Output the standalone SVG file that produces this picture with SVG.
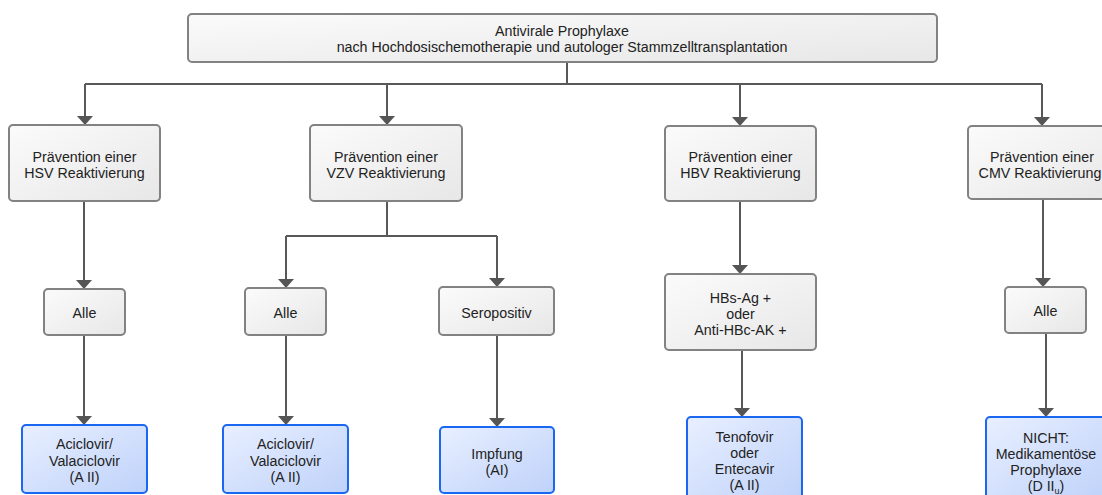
<svg xmlns="http://www.w3.org/2000/svg" width="1102" height="495" viewBox="0 0 1102 495">
<style>
.g{fill:url(#gg);stroke:#828282;stroke-width:2}
.b{fill:url(#bg);stroke:#1a68f2;stroke-width:2}
text{font-family:"Liberation Sans",Arial,sans-serif;font-size:14.25px;fill:#222;text-anchor:middle}
.c{fill:none;stroke:#585858;stroke-width:2}
</style>
<defs>
<linearGradient id="gg" x1="0" y1="0" x2="1" y2="1">
<stop offset="0" stop-color="#fbfbfb"/><stop offset="1" stop-color="#e7e7e7"/>
</linearGradient>
<linearGradient id="bg" x1="0" y1="0" x2="1" y2="1">
<stop offset="0" stop-color="#e8efff"/><stop offset="1" stop-color="#bfd2fa"/>
</linearGradient>
</defs>
<g id="connectors">
<path class="c" d="M567,62 V84 M85,84 H1042"/>
<path d="M85,84 V125" class="c"/>
<polygon points="77,116 93,116 85,125" fill="#555"/>
<path d="M387,84 V125" class="c"/>
<polygon points="379,116 395,116 387,125" fill="#555"/>
<path d="M740,84 V126" class="c"/>
<polygon points="732,117 748,117 740,126" fill="#555"/>
<path d="M1042,84 V126" class="c"/>
<polygon points="1034,117 1050,117 1042,126" fill="#555"/>
<path class="c" d="M84,201 V289"/>
<polygon points="76,280 92,280 84,289" fill="#555"/>
<path class="c" d="M84,335 V425"/>
<polygon points="76,416 92,416 84,425" fill="#555"/>
<path class="c" d="M387,201 V236 M286,236 H497 M286,236 V288 M497,236 V287"/>
<polygon points="278,279 294,279 286,288" fill="#555"/>
<polygon points="489,278 505,278 497,287" fill="#555"/>
<path class="c" d="M286,335 V425"/>
<polygon points="278,416 294,416 286,425" fill="#555"/>
<path class="c" d="M497,335 V427"/>
<polygon points="489,418 505,418 497,427" fill="#555"/>
<path class="c" d="M740,201 V274"/>
<polygon points="732,265 748,265 740,274" fill="#555"/>
<path class="c" d="M742,350 V417"/>
<polygon points="734,408 750,408 742,417" fill="#555"/>
<path class="c" d="M1043,199 V287"/>
<polygon points="1035,278 1051,278 1043,287" fill="#555"/>
<path class="c" d="M1046,333 V417"/>
<polygon points="1038,408 1054,408 1046,417" fill="#555"/>
</g>
<g id="root">
<rect class="g" x="188" y="14" width="749" height="48" rx="4"/>
<text x="562" y="36">Antivirale Prophylaxe</text>
<text x="562" y="52">nach Hochdosischemotherapie und autologer Stammzelltransplantation</text>
</g>
<g id="hsv">
<rect class="g" x="9" y="125" width="151" height="76" rx="4"/>
<text x="84.5" y="162">Prävention einer</text>
<text x="84.5" y="178">HSV Reaktivierung</text>
</g>
<g id="vzv">
<rect class="g" x="310" y="125" width="152" height="76" rx="4"/>
<text x="386" y="162">Prävention einer</text>
<text x="386" y="178">VZV Reaktivierung</text>
</g>
<g id="hbv">
<rect class="g" x="665" y="126" width="151" height="75" rx="4"/>
<text x="740.5" y="162">Prävention einer</text>
<text x="740.5" y="178">HBV Reaktivierung</text>
</g>
<g id="cmv">
<rect class="g" x="968" y="126" width="152" height="73" rx="4"/>
<text x="1042" y="162">Prävention einer</text>
<text x="1040" y="178">CMV Reaktivierung</text>
</g>
<g id="hsv-alle">
<rect class="g" x="44" y="289" width="81" height="46" rx="4"/>
<text x="84.5" y="318">Alle</text>
</g>
<g id="vzv-alle">
<rect class="g" x="245" y="288" width="81" height="47" rx="4"/>
<text x="285.5" y="318">Alle</text>
</g>
<g id="vzv-sero">
<rect class="g" x="439" y="287" width="115" height="48" rx="4"/>
<text x="496.5" y="318">Seropositiv</text>
</g>
<g id="hbv-cond">
<rect class="g" x="665" y="274" width="151" height="76" rx="4"/>
<text x="740.5" y="303">HBs-Ag +</text>
<text x="740.5" y="319">oder</text>
<text x="740.5" y="335">Anti-HBc-AK +</text>
</g>
<g id="cmv-alle">
<rect class="g" x="1005" y="287" width="81" height="46" rx="4"/>
<text x="1045.5" y="316">Alle</text>
</g>
<g id="hsv-rx">
<rect class="b" x="22" y="425" width="125" height="68" rx="4"/>
<text x="84.5" y="449">Aciclovir/</text>
<text x="84.5" y="466">Valaciclovir</text>
<text x="84.5" y="482">(A II)</text>
</g>
<g id="vzv-rx">
<rect class="b" x="223" y="425" width="125" height="68" rx="4"/>
<text x="285.5" y="449">Aciclovir/</text>
<text x="285.5" y="466">Valaciclovir</text>
<text x="285.5" y="482">(A II)</text>
</g>
<g id="vzv-impf">
<rect class="b" x="440" y="427" width="114" height="66" rx="4"/>
<text x="497" y="459">Impfung</text>
<text x="497" y="475">(AI)</text>
</g>
<g id="hbv-rx">
<rect class="b" x="687" y="417" width="115" height="84" rx="4"/>
<text x="744.5" y="442">Tenofovir</text>
<text x="744.5" y="458">oder</text>
<text x="744.5" y="474">Entecavir</text>
<text x="744.5" y="490">(A II)</text>
</g>
<g id="cmv-rx">
<rect class="b" x="986" y="417" width="120" height="84" rx="4"/>
<text x="1046" y="443">NICHT:</text>
<text x="1046" y="459">Medikamentöse</text>
<text x="1046" y="475">Prophylaxe</text>
<text x="1046" y="491">(D II<tspan font-size="9" dy="3">u</tspan><tspan dy="-3">)</tspan></text>
</g>
</svg>
